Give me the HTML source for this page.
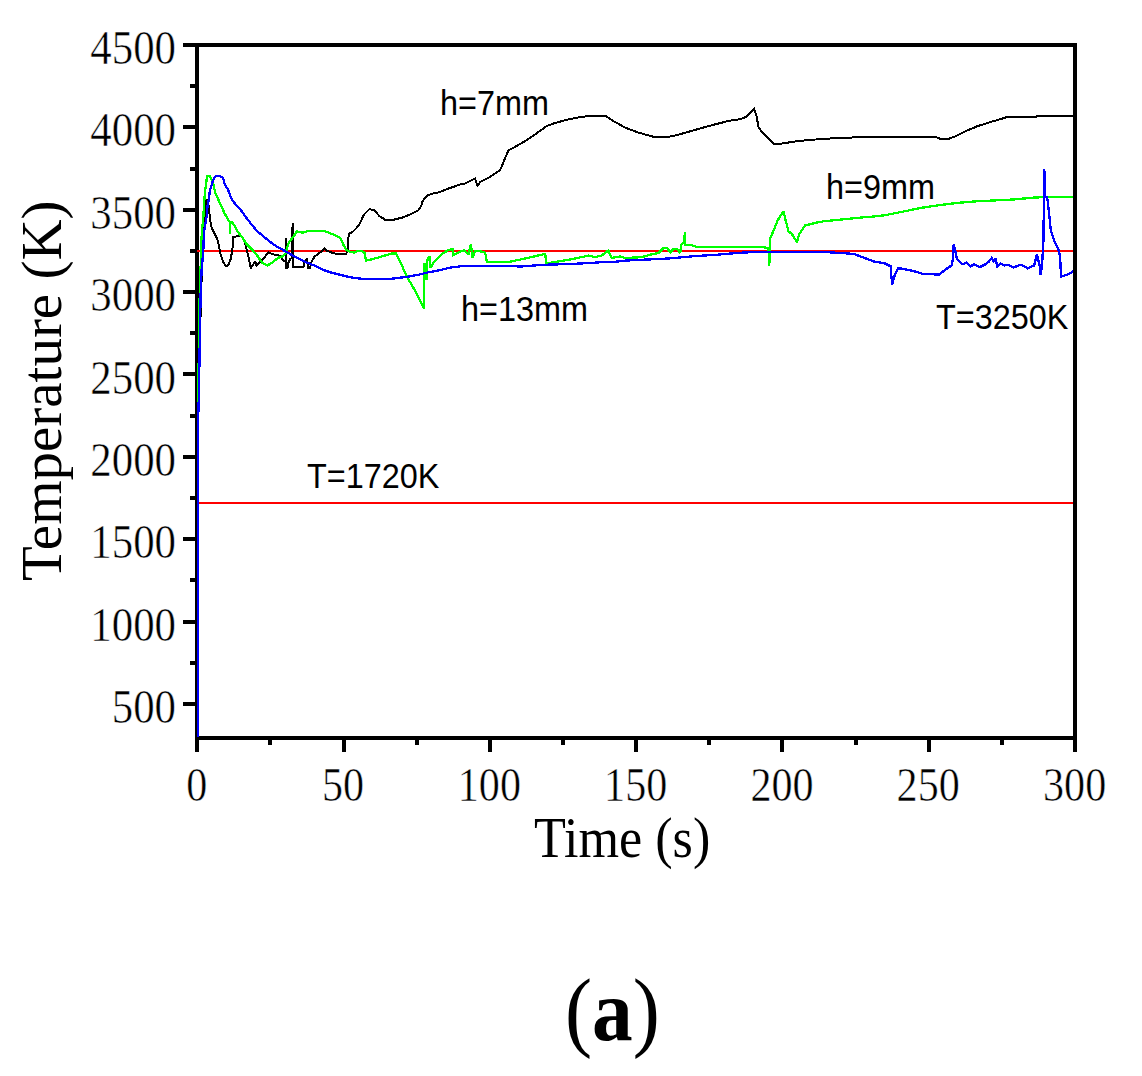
<!DOCTYPE html>
<html><head><meta charset="utf-8"><style>
html,body{margin:0;padding:0;background:#fff;}
body{width:1142px;height:1076px;overflow:hidden;position:relative;}
svg{position:absolute;left:0;top:0;}
.tk{font-family:"Liberation Serif",serif;font-size:49px;stroke:#fff;stroke-width:0.5px;}
.ax{font-family:"Liberation Serif",serif;font-size:57px;}
.an{font-family:"Liberation Sans",sans-serif;font-size:36px;}
.cap{font-family:"Liberation Serif",serif;font-size:88px;font-weight:bold;}
</style></head><body>
<svg width="1142" height="1076" viewBox="0 0 1142 1076">
<g fill="#000" shape-rendering="crispEdges">
<rect x="183" y="43" width="894" height="4"/>
<rect x="195" y="43" width="4" height="697"/>
<rect x="1073" y="43" width="4" height="697"/>
<rect x="195" y="736" width="882" height="4"/>
<rect x="195" y="740" width="4" height="12"/>
<rect x="268" y="740" width="4" height="5"/>
<rect x="342" y="740" width="4" height="12"/>
<rect x="415" y="740" width="4" height="5"/>
<rect x="488" y="740" width="4" height="12"/>
<rect x="561" y="740" width="4" height="5"/>
<rect x="634" y="740" width="4" height="12"/>
<rect x="707" y="740" width="4" height="5"/>
<rect x="780" y="740" width="4" height="12"/>
<rect x="854" y="740" width="4" height="5"/>
<rect x="927" y="740" width="4" height="12"/>
<rect x="1000" y="740" width="4" height="5"/>
<rect x="1073" y="740" width="4" height="12"/>
<rect x="183" y="702" width="12" height="4"/>
<rect x="190" y="661" width="5" height="4"/>
<rect x="183" y="620" width="12" height="4"/>
<rect x="190" y="578" width="5" height="4"/>
<rect x="183" y="537" width="12" height="4"/>
<rect x="190" y="496" width="5" height="4"/>
<rect x="183" y="455" width="12" height="4"/>
<rect x="190" y="414" width="5" height="4"/>
<rect x="183" y="372" width="12" height="4"/>
<rect x="190" y="331" width="5" height="4"/>
<rect x="183" y="290" width="12" height="4"/>
<rect x="190" y="249" width="5" height="4"/>
<rect x="183" y="208" width="12" height="4"/>
<rect x="190" y="167" width="5" height="4"/>
<rect x="183" y="125" width="12" height="4"/>
<rect x="190" y="84" width="5" height="4"/>
<rect x="183" y="43" width="12" height="4"/>
</g>
<g fill="#000">
<text transform="translate(176,723.0) scale(0.875,1)" text-anchor="end" class="tk">500</text>
<text transform="translate(176,640.6) scale(0.875,1)" text-anchor="end" class="tk">1000</text>
<text transform="translate(176,558.2) scale(0.875,1)" text-anchor="end" class="tk">1500</text>
<text transform="translate(176,475.9) scale(0.875,1)" text-anchor="end" class="tk">2000</text>
<text transform="translate(176,393.5) scale(0.875,1)" text-anchor="end" class="tk">2500</text>
<text transform="translate(176,311.1) scale(0.875,1)" text-anchor="end" class="tk">3000</text>
<text transform="translate(176,228.8) scale(0.875,1)" text-anchor="end" class="tk">3500</text>
<text transform="translate(176,146.4) scale(0.875,1)" text-anchor="end" class="tk">4000</text>
<text transform="translate(176,64.0) scale(0.875,1)" text-anchor="end" class="tk">4500</text>
<text transform="translate(196.8,801) scale(0.86,1)" text-anchor="middle" class="tk">0</text>
<text transform="translate(343.1,801) scale(0.86,1)" text-anchor="middle" class="tk">50</text>
<text transform="translate(489.4,801) scale(0.86,1)" text-anchor="middle" class="tk">100</text>
<text transform="translate(635.7,801) scale(0.86,1)" text-anchor="middle" class="tk">150</text>
<text transform="translate(782.0,801) scale(0.86,1)" text-anchor="middle" class="tk">200</text>
<text transform="translate(928.2,801) scale(0.86,1)" text-anchor="middle" class="tk">250</text>
<text transform="translate(1074.6,801) scale(0.86,1)" text-anchor="middle" class="tk">300</text>
<text transform="translate(534,857) scale(0.915,1)" class="ax">Time (s)</text>
<text transform="translate(61,581) rotate(-90)" class="ax">Temperature (K)</text>
<text transform="translate(440,115) scale(0.9,1)" class="an">h=7mm</text>
<text transform="translate(826,199) scale(0.9,1)" class="an">h=9mm</text>
<text transform="translate(461,321) scale(0.9,1)" class="an">h=13mm</text>
<text transform="translate(936,329) scale(0.9,1)" class="an">T=3250K</text>
<text transform="translate(307,488) scale(0.9,1)" class="an">T=1720K</text>
<text transform="translate(565,1040) scale(0.925,1)" class="cap"><tspan font-weight="normal">(</tspan>a<tspan font-weight="normal">)</tspan></text>
</g>
<rect x="197" y="250" width="876" height="2" fill="#f00"/>
<rect x="197" y="502" width="876" height="2" fill="#f00"/>
<polyline points="198.0,737.0 198.0,425.0 199.0,390.0 200.0,340.0 201.0,295.0 202.0,270.0 203.3,245.0 203.9,230.2 205.0,206.8 206.7,199.5 207.8,200.6 208.9,206.8 210.0,219.0 211.7,227.9 214.5,233.5 217.3,239.1 219.0,245.8 220.6,254.7 223.4,262.5 226.2,266.4 228.4,264.7 230.7,259.1 232.3,250.2 233.4,236.9 236.3,236.4 239.6,235.9 241.9,237.0 244.1,240.3 246.3,248.1 248.6,257.1 250.8,268.2 253.0,264.9 255.3,261.5 256.4,266.0 259.7,262.6 263.1,259.3 266.4,254.8 268.6,252.6 273.3,254.4 278.4,255.2 280.9,256.0 281.7,258.5 283.3,260.2 285.5,262.0 285.6,267.5 285.9,238.5 286.3,267.5 287.6,267.5 288.6,262.0 290.3,259.0 291.8,258.0 292.6,223.4 292.8,267.3 303.5,267.3 304.5,262.5 307.3,258.5 307.9,268.2 310.0,268.2 311.5,262.0 314.6,256.5 318.5,253.8 321.9,251.0 324.6,248.7 326.5,250.5 331.9,252.7 336.9,253.9 346.1,253.9 347.8,250.2 347.8,240.1 349.5,233.5 352.8,231.8 356.1,228.4 359.8,223.7 363.9,214.6 369.5,209.0 374.4,210.4 379.3,216.0 384.8,219.5 394.6,219.5 403.0,217.4 411.3,213.9 418.3,210.4 421.1,206.2 422.5,201.4 426.7,195.8 432.2,193.7 439.2,192.3 447.6,188.8 455.9,186.0 461.5,183.9 465.0,183.6 475.0,178.6 477.5,186.1 480.1,182.0 488.4,177.8 500.1,170.3 503.5,161.9 508.5,150.2 513.5,147.7 526.9,140.1 535.3,134.3 547.0,125.9 553.7,123.4 565.4,120.1 582.1,116.7 595.0,115.9 605.9,115.9 611.7,120.1 625.1,127.6 638.5,132.6 653.5,136.8 668.6,136.8 676.9,135.1 688.6,131.8 712.1,125.1 728.8,120.9 740.0,119.2 746.7,116.7 754.2,108.7 756.7,116.7 758.4,126.8 761.7,131.8 768.4,138.5 773.4,143.5 781.8,143.5 798.5,141.0 823.6,138.8 848.7,137.6 877.1,136.8 935.2,136.8 940.7,139.0 948.2,139.0 955.6,136.2 966.7,130.7 977.9,126.0 992.7,121.4 1002.4,118.6 1008.0,116.7 1035.9,116.7 1037.8,115.8 1073.1,115.8" fill="none" stroke="#000" stroke-width="2.0" stroke-linejoin="miter" stroke-miterlimit="2" shape-rendering="crispEdges"/>
<polyline points="198.0,737.0 198.0,425.0 198.4,380.0 199.0,340.0 199.7,295.0 200.6,270.0 201.0,248.0 202.0,230.0 203.3,218.0 204.2,202.2 205.1,190.1 206.0,184.5 207.0,177.1 207.6,175.7 209.3,175.7 211.2,178.5 213.5,184.5 214.4,189.2 215.3,192.9 217.2,196.6 218.6,200.3 220.4,204.0 222.3,208.2 223.7,211.5 225.1,214.3 228.4,220.1 230.1,222.4 230.1,233.5 230.4,222.4 232.3,222.0 235.2,227.0 237.4,231.4 241.9,237.0 246.3,243.7 251.9,249.3 257.5,256.0 262.0,262.6 267.5,265.4 272.0,262.6 278.4,257.7 283.4,256.0 285.5,253.5 286.7,249.3 289.2,241.8 293.4,236.8 296.8,231.4 299.3,232.2 303.5,232.6 308.5,230.9 324.4,230.9 328.5,232.6 333.6,234.7 338.6,236.8 341.1,239.3 343.6,245.2 346.1,249.8 350.3,251.9 354.5,252.7 357.0,251.0 361.1,250.8 364.6,252.9 366.0,260.6 372.3,259.2 382.1,256.4 391.8,253.6 396.0,253.6 401.6,264.8 407.0,277.0 414.0,288.8 420.2,300.7 424.1,309.0 424.4,263.0 426.3,266.0 426.6,280.4 427.2,262.0 427.9,258.1 429.6,256.7 430.7,267.9 433.5,262.3 438.4,257.4 443.2,253.2 448.8,249.8 453.1,249.4 453.1,255.0 458.7,252.2 464.3,250.1 468.3,254.7 470.9,243.9 472.5,258.1 475.0,251.4 479.0,251.0 484.2,252.2 485.9,255.6 486.7,261.4 490.1,262.3 506.8,262.3 523.5,258.9 545.3,253.9 546.1,263.1 548.6,263.1 568.7,259.8 588.8,255.6 595.0,257.2 601.7,255.5 608.4,250.5 610.9,256.4 611.7,258.0 620.1,256.4 625.1,258.0 641.8,257.2 650.2,254.7 658.5,253.0 663.6,248.0 666.9,248.0 670.2,252.2 673.6,248.8 676.9,248.8 680.3,253.0 681.1,244.7 683.6,242.2 685.0,232.5 685.3,244.7 692.0,245.3 697.0,247.0 712.1,247.0 763.4,247.2 768.4,248.0 769.3,265.6 770.1,238.8 774.3,228.8 777.6,220.4 783.5,211.2 785.2,218.7 788.5,231.3 791.8,233.8 796.9,242.2 799.4,233.8 805.2,225.4 815.3,222.9 823.6,221.3 840.3,219.6 857.1,217.9 877.1,216.2 885.0,215.2 903.6,211.5 922.2,207.7 940.7,205.0 959.3,202.7 977.9,201.2 995.0,200.4 1013.6,199.5 1032.2,197.7 1050.8,196.7 1073.1,196.7" fill="none" stroke="#0f0" stroke-width="2.3" stroke-linejoin="miter" stroke-miterlimit="2" shape-rendering="crispEdges"/>
<polyline points="198.0,737.0 198.0,425.0 199.0,390.0 199.8,340.0 200.6,295.0 201.6,270.0 202.2,263.6 203.4,248.0 203.9,232.4 205.6,222.0 207.0,215.0 207.4,206.8 209.1,197.5 209.8,191.0 210.9,187.3 212.1,183.6 213.0,180.3 214.4,177.5 215.8,176.2 220.4,176.2 222.8,178.0 223.7,180.3 224.4,183.1 226.0,186.4 227.9,189.6 229.3,192.9 230.7,196.6 232.5,200.3 235.3,204.0 238.1,206.8 240.9,210.1 245.6,216.8 251.2,224.0 256.7,230.7 262.3,235.5 267.9,240.0 273.5,244.4 279.0,247.8 284.6,250.8 290.2,254.1 298.6,258.6 305.1,261.9 313.5,265.2 321.9,269.4 330.2,272.3 338.6,274.4 347.0,276.5 353.6,277.8 361.1,278.7 391.8,278.7 408.5,276.6 419.7,274.5 428.0,272.4 439.2,270.3 450.3,267.6 461.5,266.2 470.0,265.9 521.9,266.4 543.6,264.8 572.1,263.9 588.8,263.1 600.0,262.3 611.7,262.2 625.1,260.6 643.5,259.7 668.6,258.5 693.7,256.2 718.7,254.6 738.8,252.8 751.7,252.2 823.6,251.9 840.3,253.0 853.7,253.9 860.4,256.4 873.8,261.4 885.0,263.5 890.6,266.3 892.1,284.8 894.3,276.5 898.0,268.1 903.6,269.0 912.9,270.9 922.2,273.7 938.9,274.6 946.3,269.0 951.9,265.3 952.8,258.8 953.7,244.0 955.6,252.3 957.0,259.0 959.3,261.6 963.0,264.4 966.7,262.6 970.5,266.3 974.2,264.4 979.7,267.2 985.3,264.4 989.0,261.6 991.8,257.9 993.5,261.0 995.5,258.8 997.4,266.3 1000.6,263.7 1004.3,265.6 1008.0,264.6 1013.6,267.4 1021.0,264.6 1027.6,268.3 1034.1,265.6 1036.9,254.4 1039.6,265.6 1040.6,274.9 1042.0,266.0 1043.4,241.4 1044.3,168.8 1045.2,196.7 1047.1,196.7 1048.9,211.6 1050.8,230.2 1054.5,241.4 1058.2,248.8 1060.1,256.3 1061.0,276.7 1063.8,275.8 1069.4,273.9 1073.1,271.1" fill="none" stroke="#00f" stroke-width="2.3" stroke-linejoin="miter" stroke-miterlimit="2" shape-rendering="crispEdges"/>
</svg>
</body></html>
